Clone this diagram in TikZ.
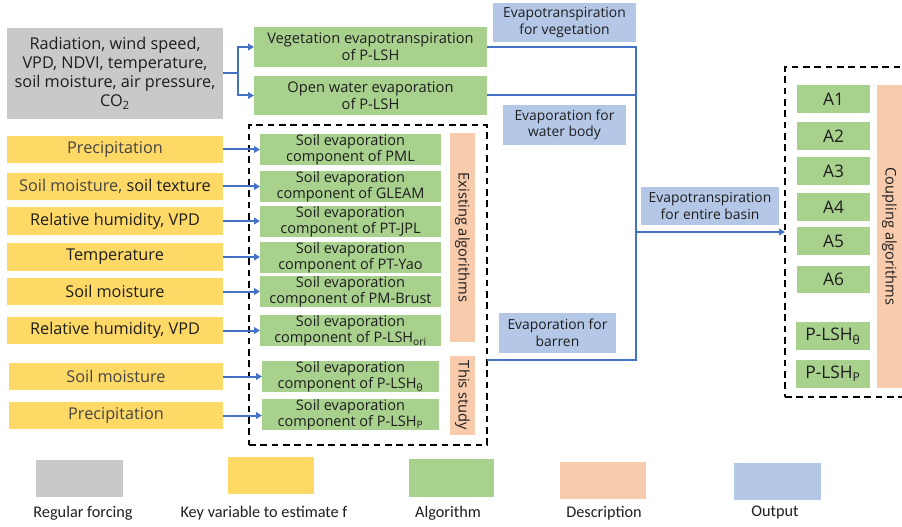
\documentclass[tikz,border=0pt]{standalone}
\usepackage{fontspec}
\setmainfont{Open Sans}
\newfontfamily\legfont{Carlito}
\usetikzlibrary{arrows.meta}
\definecolor{cgray}{HTML}{C9C9C9}
\definecolor{cyel}{HTML}{FFD966}
\definecolor{cgrn}{HTML}{A9D18E}
\definecolor{corg}{HTML}{F8CBAD}
\definecolor{cblu}{HTML}{B4C7E7}
\definecolor{cline}{HTML}{4472C4}
\definecolor{ctxt}{HTML}{1E1E1E}
\definecolor{ctxg}{HTML}{454545}
\newcommand\mybox[7]{\node[#2, anchor=north west, minimum width={(#5-#3)*0.75pt}, minimum height={(#6-#4)*0.75pt}] (#1) at (#3,#4) {#7};}
\tikzset{
  base/.style={inner sep=0pt, outer sep=0pt, align=center, text=ctxt, font=\fontsize{11}{12.8}\selectfont},
  gbox/.style={base, fill=cgray, font=\fontsize{12.2}{14.3}\selectfont},
  ybox/.style={base, fill=cyel, font=\fontsize{12.2}{14}\selectfont},
  abox/.style={base, fill=cgrn},
  cbox/.style={base, fill=cgrn, font=\fontsize{13}{15}\selectfont},
  soil/.style={base, fill=cgrn, font=\fontsize{10.9}{12.4}\selectfont},
  obox/.style={base, fill=corg},
  bbox/.style={base, fill=cblu, font=\fontsize{10.4}{12.5}\selectfont},
  grp/.style={inner sep=0pt, outer sep=0pt, draw=black, line width=1.5pt, dash pattern=on 5pt off 3.5pt},
  conn/.style={draw=cline, line width=1.5pt},
  arr/.style={conn, -{Triangle[length=4.5pt,width=5pt]}},
  leg/.style={inner sep=0pt, text=ctxt, font=\legfont\fontsize{12.2}{14}\selectfont}
}
\begin{document}
\begin{tikzpicture}[x=0.75pt,y=-0.75pt]
\useasboundingbox (0,0) rectangle (902,527);
% groups
\mybox{leftgrp}{grp}{249}{125}{487}{445}{}
\mybox{rightgrp}{grp}{785}{67}{910}{397}{}
% forcing
\mybox{forc}{gbox}{7}{28}{223}{119}{Radiation, wind speed,\\VPD, NDVI, temperature,\\soil moisture, air pressure,\\CO\textsubscript{2}}
\mybox{veg}{abox}{254}{27}{487}{67}{Vegetation evapotranspiration\\of P-LSH}
\mybox{water}{abox}{254}{76}{487}{115}{Open water evaporation\\of P-LSH}
% outputs
\mybox{oveg}{bbox}{493}{3}{636}{42}{Evapotranspiration\\for vegetation}
\mybox{owat}{bbox}{503}{105}{626}{145}{Evaporation for\\water body}
\mybox{obas}{bbox}{641}{187}{779}{225}{Evapotranspiration\\for entire basin}
\mybox{obar}{bbox}{499}{313}{616}{353}{Evaporation for\\barren}
% key variables
\mybox{y1}{ybox}{7}{136}{223}{163}{\textcolor{ctxg}{Precipitation}}
\mybox{y2}{ybox}{7}{173}{223}{200}{\textcolor{ctxg}{Soil moisture,} soil texture}
\mybox{y3}{ybox}{7}{207}{223}{235}{Relative humidity, VPD}
\mybox{y4}{ybox}{7}{243}{223}{271}{Temperature}
\mybox{y5}{ybox}{7}{278}{223}{305}{Soil moisture}
\mybox{y6}{ybox}{7}{317}{223}{344}{Relative humidity, VPD}
\mybox{y7}{ybox}{9}{363}{223}{390}{\textcolor{ctxg}{Soil moisture}}
\mybox{y8}{ybox}{9}{402}{223}{429}{\textcolor{ctxg}{Precipitation}}
% soil algorithms
\mybox{s1}{soil}{260}{134}{441}{165}{Soil evaporation\\component of PML}
\mybox{s2}{soil}{260}{171}{441}{202}{Soil evaporation\\component of GLEAM}
\mybox{s3}{soil}{260}{206}{441}{236}{Soil evaporation\\component of PT-JPL}
\mybox{s4}{soil}{260}{242}{441}{272}{Soil evaporation\\component of PT-Yao}
\mybox{s5}{soil}{260}{276}{441}{307}{Soil evaporation\\component of PM-Brust}
\mybox{s6}{soil}{260}{315}{441}{346}{Soil evaporation\\component of P-LSH\textsubscript{ori}}
\mybox{s7}{soil}{262}{361}{439}{392}{Soil evaporation\\component of P-LSH\textsubscript{θ}}
\mybox{s8}{soil}{262}{399}{439}{430}{Soil evaporation\\component of P-LSH\textsubscript{P}}
\mybox{dex}{obox}{450}{133}{475}{342}{}
\mybox{dth}{obox}{450}{356}{475}{435}{}
\node[base, rotate=-90] at (dex.center) {Existing algorithms};
\node[base, rotate=-90] at (dth.center) {This study};
% coupling
\mybox{a1}{cbox}{797}{85}{870}{113}{A1}
\mybox{a2}{cbox}{797}{122}{870}{150}{A2}
\mybox{a3}{cbox}{797}{157}{870}{185}{A3}
\mybox{a4}{cbox}{797}{193}{870}{221}{A4}
\mybox{a5}{cbox}{797}{227}{870}{255}{A5}
\mybox{a6}{cbox}{797}{266}{870}{293}{A6}
\mybox{a7}{cbox}{796}{322}{870}{350}{P-LSH\textsubscript{θ}}
\mybox{a8}{cbox}{796}{360}{870}{388}{P-LSH\textsubscript{P}}
\mybox{dcp}{obox}{877}{85}{902}{388}{}
\node[base, rotate=-90] at (dcp.center) {Coupling algorithms};
% connectors
\coordinate (split) at (238,73.5);
\draw[conn] (forc.east) -- (split);
\draw[arr] (split) |- (veg.west);
\draw[arr] (split) |- (water.west);
\coordinate (bend) at (636,360);
\coordinate (jn) at (636,232);
\draw[conn] (veg.east) -| (bend) -- (leftgrp.east |- bend);
\draw[conn] (water.east) -- (water.east -| bend);
\draw[arr] (jn) -- (jn -| rightgrp.west);
\foreach \i in {1,...,8} {\draw[arr] (y\i.east) -- (y\i.east -| s\i.west);}
% legend
\mybox{lg1}{gbox}{36}{460}{123}{497}{}
\mybox{lg2}{ybox}{228}{457}{314}{494}{}
\mybox{lg3}{abox}{409}{459}{494}{497}{}
\mybox{lg4}{obox}{560}{462}{646}{499}{}
\mybox{lg5}{bbox}{734}{463}{821}{500}{}
\node[leg] (t1) at (83,513) {Regular forcing};
\node[leg] (t2) at (264,513) {Key variable to estimate f};
\node[leg] (t3) at (448,513) {Algorithm};
\node[leg] (t4) at (604,513) {Description};
\node[leg] (t5) at (775,513) {Output};
\end{tikzpicture}
\end{document}
